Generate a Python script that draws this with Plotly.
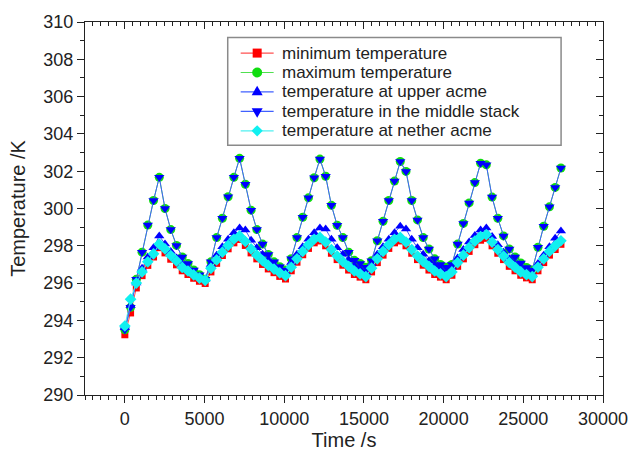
import plotly.graph_objects as go

# Sampling times (one reading every 360 s)
time_s = list(range(0, 27361, 360))

min_temp = [293.23, 294.4, 295.74, 296.4, 296.95, 297.4, 297.9, 297.62, 297.28, 296.98, 296.66, 296.46, 296.26, 296.1, 295.98,
            296.6, 297.06, 297.48, 297.84, 298.16, 298.34, 298.02, 297.62, 297.3, 297.0, 296.76, 296.56, 296.36, 296.22,
            296.66, 297.12, 297.52, 297.86, 298.16, 298.26, 298.0, 297.6, 297.26, 296.96, 296.7, 296.46, 296.32, 296.18,
            296.6, 297.1, 297.5, 297.86, 298.16, 298.26, 298.0, 297.6, 297.26, 296.96, 296.7, 296.46, 296.32, 296.18,
            296.42, 296.9, 297.3, 297.7, 298.06, 298.3, 298.4, 298.0, 297.6, 297.26, 296.9, 296.66, 296.42, 296.28, 296.18,
            296.66, 297.1, 297.5, 297.8, 298.08]

max_temp = [293.5, 294.7, 296.2, 297.66, 299.11, 300.43, 301.67, 300.0, 298.87, 298.02, 297.4, 297.05, 296.7, 296.45, 296.2,
            297.14, 298.44, 299.48, 300.63, 301.67, 302.69, 301.3, 299.91, 298.87, 298.09, 297.54, 297.14, 296.88, 296.7,
            297.31, 298.44, 299.53, 300.57, 301.65, 302.65, 301.73, 300.17, 299.1, 298.44, 297.66, 297.22, 297.05, 296.85,
            297.2, 298.27, 299.31, 300.43, 301.47, 302.52, 301.99, 300.43, 299.39, 298.44, 297.83, 297.3, 297.0, 296.85,
            297.0, 298.09, 299.2, 300.3, 301.39, 302.43, 302.34, 300.61, 299.48, 298.53, 297.83, 297.4, 297.08, 296.84, 296.7,
            297.92, 299.05, 300.09, 301.13, 302.17]

upper_temp = [293.6, 294.8, 296.0, 296.8, 297.4, 297.9, 298.53, 298.1, 297.7, 297.35, 297.0, 296.75, 296.55, 296.35, 296.2,
              297.0, 297.5, 297.95, 298.35, 298.7, 298.96, 298.85, 298.3, 297.9, 297.55, 297.25, 297.0, 296.8, 296.6,
              297.1, 297.55, 297.95, 298.35, 298.7, 298.96, 298.9, 298.35, 297.9, 297.55, 297.25, 296.95, 296.75, 296.55,
              297.05, 297.55, 297.95, 298.35, 298.7, 299.05, 298.9, 298.35, 297.9, 297.55, 297.2, 296.95, 296.75, 296.55,
              296.85, 297.35, 297.8, 298.2, 298.55, 298.85, 298.96, 298.5, 298.05, 297.65, 297.3, 297.0, 296.75, 296.6, 296.5,
              297.05, 297.5, 297.95, 298.4, 298.79]

middle_temp = [293.5, 294.7, 296.2, 297.66, 299.11, 300.43, 301.67, 300.0, 298.87, 298.02, 297.4, 297.05, 296.7, 296.45, 296.2,
               297.14, 298.44, 299.48, 300.63, 301.67, 302.69, 301.3, 299.91, 298.87, 298.09, 297.54, 297.14, 296.88, 296.7,
               297.31, 298.44, 299.53, 300.57, 301.65, 302.65, 301.73, 300.17, 299.1, 298.44, 297.66, 297.22, 297.05, 296.85,
               297.2, 298.27, 299.31, 300.43, 301.47, 302.52, 301.99, 300.43, 299.39, 298.44, 297.83, 297.3, 297.0, 296.85,
               297.0, 298.09, 299.2, 300.3, 301.39, 302.43, 302.34, 300.61, 299.48, 298.53, 297.83, 297.4, 297.08, 296.84, 296.7,
               297.92, 299.05, 300.09, 301.13, 302.17]

nether_temp = [293.7, 295.14, 296.0, 296.6, 297.14, 297.57, 298.09, 297.83, 297.48, 297.19, 296.84, 296.65, 296.44, 296.27, 296.15,
               296.79, 297.24, 297.66, 298.02, 298.35, 298.53, 298.23, 297.83, 297.5, 297.2, 296.95, 296.75, 296.55, 296.4,
               296.85, 297.3, 297.7, 298.05, 298.35, 298.45, 298.2, 297.8, 297.45, 297.15, 296.9, 296.65, 296.5, 296.35,
               296.8, 297.3, 297.7, 298.05, 298.35, 298.45, 298.2, 297.8, 297.45, 297.15, 296.9, 296.65, 296.5, 296.35,
               296.6, 297.1, 297.5, 297.9, 298.25, 298.5, 298.6, 298.2, 297.8, 297.45, 297.1, 296.85, 296.6, 296.45, 296.35,
               296.85, 297.3, 297.7, 298.0, 298.27]

series_names = ["minimum temperature", "maximum temperature", "temperature at upper acme",
                "temperature in the middle stack", "temperature at nether acme"]

x_range = [-2500, 30000]
y_range = [290, 310]

FONT = "Liberation Sans, Arial, sans-serif"
INK = "#222222"

W, H = 640, 459
ML, MR, MT, MB = 85, 36, 18, 57
PW, PH = W - ML - MR, H - MT - MB

styles = [
    dict(symbol="square", size=7, color="#ff0000", line="#ff5050"),
    dict(symbol="circle", size=9, color="#10dd10", line="#50e050"),
    dict(symbol="triangle-up", size=9, color="#0000ff", line="#4060ff"),
    dict(symbol="triangle-down", size=9, color="#0000ff", line="#4060ff"),
    dict(symbol="diamond", size=9, color="#10f0f0", line="#50f0f0"),
]
series = [min_temp, max_temp, upper_temp, middle_temp, nether_temp]

fig = go.Figure()
for name, vals, st in zip(series_names, series, styles):
    fig.add_trace(go.Scatter(
        x=time_s, y=vals, name=name, mode="lines+markers",
        line=dict(color=st["line"], width=1),
        marker=dict(symbol=st["symbol"], size=st["size"], color=st["color"], line=dict(width=0)),
        showlegend=False,
    ))

# empty trace so the mirrored frame axes (top / right) get drawn
fig.add_trace(go.Scatter(x=[], y=[], xaxis="x2", yaxis="y2", showlegend=False, hoverinfo="skip"))

tick_common = dict(ticks="outside", ticklen=7, tickwidth=1.2, tickcolor=INK,
                   showline=True, linecolor=INK, linewidth=1.3,
                   showgrid=False, zeroline=False,
                   tickfont=dict(family=FONT, size=18, color=INK))

fig.update_layout(
    width=W, height=H,
    margin=dict(l=ML, r=MR, t=MT, b=MB),
    paper_bgcolor="white", plot_bgcolor="white",
    showlegend=False,
    xaxis=dict(range=x_range, tick0=0, dtick=5000, tickformat="d", exponentformat="none",
               minor=dict(dtick=500, ticks="outside", ticklen=4, tickcolor=INK, tickwidth=1),
               title=dict(text="Time /s", font=dict(family=FONT, size=20, color=INK), standoff=4),
               **tick_common),
    yaxis=dict(range=y_range, tick0=290, dtick=2,
               minor=dict(dtick=1, ticks="outside", ticklen=4, tickcolor=INK, tickwidth=1),
               title=dict(text="Temperature /K", font=dict(family=FONT, size=20, color=INK), standoff=12),
               **tick_common),
    xaxis2=dict(range=x_range, overlaying="x", side="top", anchor="y2", tick0=0, dtick=5000,
                ticks="inside", ticklen=7, tickwidth=1.2, tickcolor=INK, showticklabels=False,
                minor=dict(dtick=500, ticks="inside", ticklen=4, tickcolor=INK, tickwidth=1),
                showline=True, linecolor=INK, linewidth=1.3, showgrid=False, zeroline=False),
    yaxis2=dict(range=y_range, overlaying="y", side="right", anchor="x2", tick0=290, dtick=2,
                ticks="inside", ticklen=7, tickwidth=1.2, tickcolor=INK, showticklabels=False,
                minor=dict(dtick=1, ticks="inside", ticklen=4, tickcolor=INK, tickwidth=1),
                showline=True, linecolor=INK, linewidth=1.3, showgrid=False, zeroline=False),
)


# Legend drawn as a boxed key in plot-fraction coordinates
def fx(px):
    return (px - ML) / PW


def fy(py):
    return (H - MB - py) / PH


shapes = [dict(type="rect", xref="paper", yref="paper", x0=fx(228), x1=fx(562), y0=fy(145), y1=fy(34),
               line=dict(color="#8a8a8a", width=1.5), fillcolor="white", layer="above")]
annotations = []
key_paths = {
    "triangle-up": "M-5.5,-3.2 L5.5,-3.2 L0,6.3 Z",
    "triangle-down": "M-5.5,3.2 L5.5,3.2 L0,-6.3 Z",
    "diamond": "M0,-5.6 L5.6,0 L0,5.6 L-5.6,0 Z",
}
row_y = [50, 70, 90, 110, 130]
for name, st, ry in zip(series_names, styles, row_y):
    shapes.append(dict(type="line", xref="paper", yref="paper", x0=fx(241), x1=fx(274), y0=fy(ry), y1=fy(ry),
                       line=dict(color=st["line"], width=1.2), layer="above"))
    base = dict(xref="paper", yref="paper", xsizemode="pixel", ysizemode="pixel",
                xanchor=fx(257.5), yanchor=fy(ry), fillcolor=st["color"], line=dict(width=0), layer="above")
    if st["symbol"] == "square":
        shapes.append(dict(type="rect", x0=-4.5, x1=4.5, y0=-4.5, y1=4.5, **base))
    elif st["symbol"] == "circle":
        shapes.append(dict(type="circle", x0=-5, x1=5, y0=-5, y1=5, **base))
    else:
        shapes.append(dict(type="path", path=key_paths[st["symbol"]], **base))
    annotations.append(dict(xref="paper", yref="paper", x=fx(280), y=fy(ry), xanchor="left", yanchor="middle",
                            text=name, showarrow=False, font=dict(family=FONT, size=17, color=INK)))

fig.update_layout(shapes=shapes, annotations=annotations)

fig.write_html("out.html")
